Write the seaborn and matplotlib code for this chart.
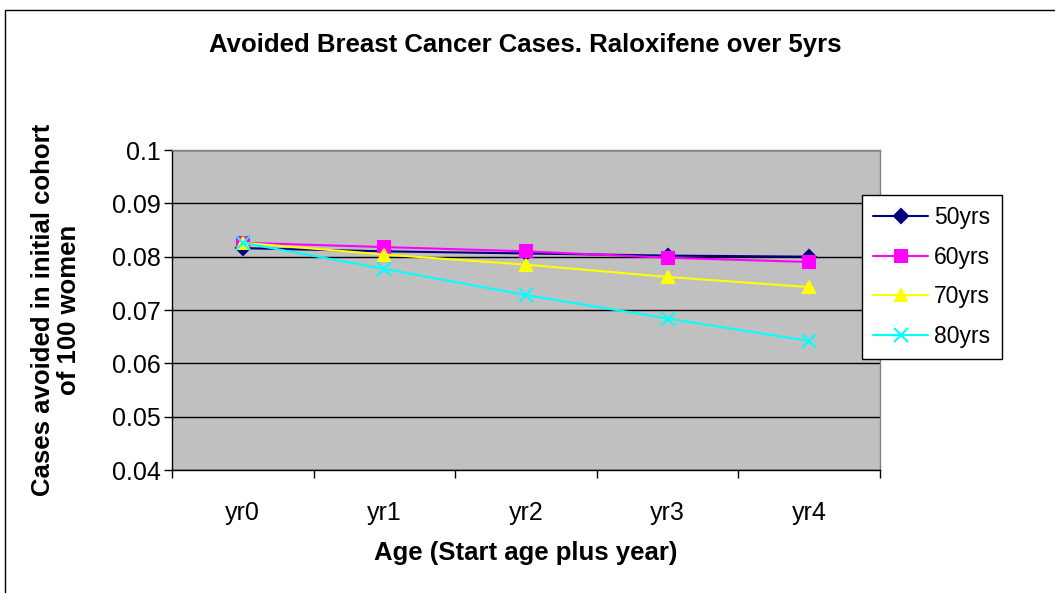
import matplotlib
matplotlib.use("Agg")
import matplotlib.pyplot as plt
from matplotlib.patches import Rectangle
from matplotlib.ticker import FixedLocator
import pandas as pd
import seaborn as sns

years = ["yr0", "yr1", "yr2", "yr3", "yr4"]
s50 = [0.0816, 0.0810, 0.0806, 0.0802, 0.0800]
s60 = [0.0826, 0.0818, 0.0810, 0.0798, 0.0790]
s70 = [0.0826, 0.0804, 0.0785, 0.0762, 0.0743]
s80 = [0.0826, 0.0777, 0.0728, 0.0684, 0.0642]
groups = ["50yrs", "60yrs", "70yrs", "80yrs"]

rows = []
for g, vals in zip(groups, [s50, s60, s70, s80]):
    for i, v in enumerate(vals):
        rows.append({"year": i, "value": v, "group": g})
df = pd.DataFrame(rows)

sns.set_style("white")
plt.rcParams["font.family"] = ["Liberation Sans", "DejaVu Sans"]
for k in ["text.color", "axes.labelcolor", "xtick.color", "ytick.color"]:
    plt.rcParams[k] = "black"

fig = plt.figure(figsize=(10.55, 5.93), dpi=100)
ax = fig.add_axes([172 / 1055, 1 - 470 / 593, 708 / 1055, 320 / 593])
ax.set_facecolor("#c0c0c0")

palette = {"50yrs": "#000080", "60yrs": "#ff00ff", "70yrs": "#ffff00", "80yrs": "#00ffff"}
markers = {"50yrs": "D", "60yrs": "s", "70yrs": "^", "80yrs": "x"}
msizes = {"50yrs": 7, "60yrs": 8, "70yrs": 9, "80yrs": 10}
for g in groups:
    sns.lineplot(data=df[df["group"] == g], x="year", y="value", color=palette[g],
                 marker=markers[g], markersize=msizes[g], markeredgecolor=palette[g],
                 markeredgewidth=1.5, linewidth=1.5, label=g, ax=ax)

ax.set_xlim(-0.5, 4.5)
ax.set_ylim(0.04, 0.1)
ax.set_yticks([0.04, 0.05, 0.06, 0.07, 0.08, 0.09, 0.1])
ax.set_yticklabels(["0.04", "0.05", "0.06", "0.07", "0.08", "0.09", "0.1"])
ax.grid(axis="y", color="black", linewidth=1)
ax.grid(axis="x", visible=False)
ax.set_axisbelow(True)

ax.set_xticks(range(5))
ax.set_xticklabels(years)
ax.xaxis.set_minor_locator(FixedLocator([-0.5, 0.5, 1.5, 2.5, 3.5, 4.5]))
ax.tick_params(axis="x", which="major", length=0, pad=22, labelsize=18)
ax.tick_params(axis="x", which="minor", length=6, width=1, color="black", direction="out",
               bottom=True)
ax.tick_params(axis="y", length=6, width=1, color="black", direction="out", labelsize=18,
               pad=2, left=True)

for side in ["top", "right"]:
    ax.spines[side].set_color("#808080")
    ax.spines[side].set_linewidth(1)
for side in ["left", "bottom"]:
    ax.spines[side].set_color("black")
    ax.spines[side].set_linewidth(1)

ax.set_xlabel("Age (Start age plus year)", fontsize=18.5, fontweight="bold")
ax.xaxis.set_label_coords(0.5, (470 - 553) / 320)
ax.xaxis.label.set_va("center")
ax.set_ylabel("Cases avoided in initial cohort\nof 100 women", fontsize=18.5,
              fontweight="bold", linespacing=1.1)
ax.yaxis.set_label_coords((56 - 172) / 708, 0.5)
ax.yaxis.label.set_va("center")
fig.text(525 / 1055, 1 - 45 / 593, "Avoided Breast Cancer Cases. Raloxifene over 5yrs",
         ha="center", va="center", fontsize=18.5, fontweight="bold")

handles, labels = ax.get_legend_handles_labels()
leg = ax.legend(handles, labels, loc="upper left",
                bbox_to_anchor=(862 / 1055, 1 - 195 / 593),
                bbox_transform=fig.transFigure, frameon=True, fancybox=False,
                fontsize=16.5, borderpad=0.5, labelspacing=0.72, handlelength=2.4,
                handletextpad=0.25, borderaxespad=0)
leg.get_frame().set_edgecolor("black")
leg.get_frame().set_linewidth(1)
leg.get_frame().set_facecolor("white")
leg.get_frame().set_alpha(1)

fig.patches.append(Rectangle((5 / 1055, -0.1), 1.2, 1 - 10 / 593 + 0.1,
                             transform=fig.transFigure, fill=False,
                             edgecolor="black", linewidth=1))

fig.savefig("out.png", dpi=100)
